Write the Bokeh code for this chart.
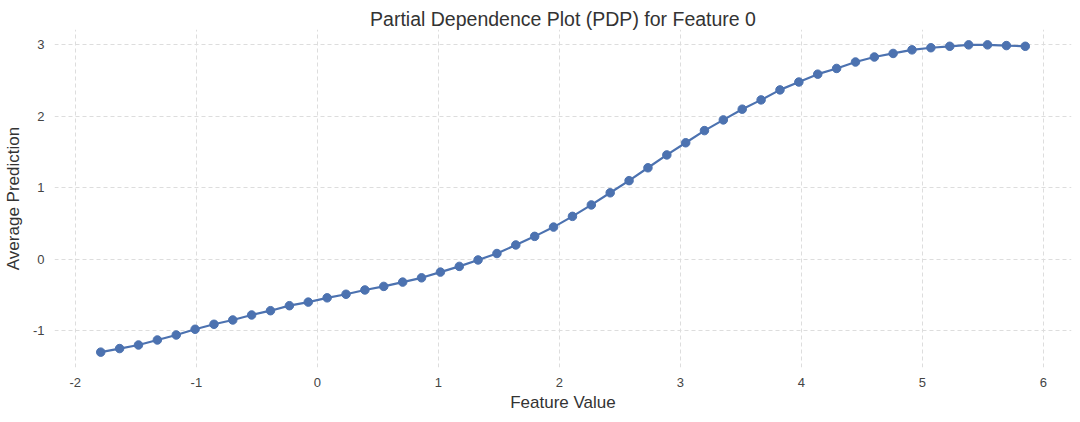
from bokeh.plotting import figure
from bokeh.models import FixedTicker, Range1d
from bokeh.embed import file_html
from bokeh.resources import INLINE

feature_values = [
    -1.790, -1.634, -1.478, -1.322, -1.166, -1.010, -0.854, -0.699, -0.543, -0.387,
    -0.231, -0.075, 0.081, 0.237, 0.393, 0.549, 0.705, 0.861, 1.017, 1.173,
    1.328, 1.484, 1.640, 1.796, 1.952, 2.108, 2.264, 2.420, 2.576, 2.732,
    2.888, 3.044, 3.199, 3.355, 3.511, 3.667, 3.823, 3.979, 4.135, 4.291,
    4.447, 4.603, 4.758, 4.914, 5.070, 5.226, 5.382, 5.538, 5.694, 5.850,
]
avg_prediction = [
    -1.30, -1.25, -1.20, -1.13, -1.06, -0.98, -0.91, -0.85, -0.78, -0.72,
    -0.65, -0.60, -0.54, -0.49, -0.43, -0.38, -0.32, -0.26, -0.18, -0.10,
    -0.01, 0.08, 0.20, 0.32, 0.45, 0.60, 0.76, 0.93, 1.10, 1.28,
    1.46, 1.63, 1.80, 1.95, 2.10, 2.23, 2.37, 2.48, 2.59, 2.67,
    2.76, 2.83, 2.88, 2.93, 2.96, 2.98, 3.00, 3.00, 2.99, 2.98,
]
x_ticks = [-2, -1, 0, 1, 2, 3, 4, 5, 6]
y_ticks = [-1, 0, 1, 2, 3]

FONT = "Liberation Sans"
BLUE = "#4C72B0"

p = figure(
    frame_width=1017, frame_height=338,
    output_backend="svg", toolbar_location=None,
    x_range=Range1d(-2.172, 6.232), y_range=Range1d(-1.515, 3.215),
    min_border_left=43, min_border_right=7, min_border_top=29, min_border_bottom=44,
    title="Partial Dependence Plot (PDP) for Feature 0",
)
p.outline_line_color = None
p.background_fill_color = "white"
p.border_fill_color = "white"

p.title.align = "center"
p.title.text_font = FONT
p.title.text_font_size = "19.5px"
p.title.text_font_style = "normal"
p.title.text_color = "#333333"
p.title.standoff = 0

for ax in (p.xaxis, p.yaxis):
    ax.axis_line_color = None
    ax.major_tick_line_color = None
    ax.minor_tick_line_color = None
    ax.major_tick_out = 0
    ax.major_tick_in = 0
    ax.major_label_text_font = FONT
    ax.major_label_text_font_size = "13px"
    ax.major_label_text_color = "#444444"
    ax.axis_label_text_font = FONT
    ax.axis_label_text_font_size = "17px"
    ax.axis_label_text_font_style = "normal"
    ax.axis_label_text_color = "#333333"

p.xaxis.ticker = FixedTicker(ticks=x_ticks)
p.yaxis.ticker = FixedTicker(ticks=y_ticks)
p.xaxis.major_label_overrides = {t: str(t) for t in x_ticks}
p.yaxis.major_label_overrides = {t: str(t) for t in y_ticks}
p.xaxis.axis_label = "Feature Value"
p.yaxis.axis_label = "Average Prediction"
p.xaxis.major_label_standoff = 10
p.yaxis.major_label_standoff = 10
p.xaxis.axis_label_standoff = 3
p.yaxis.axis_label_standoff = 7

for g in (p.xgrid, p.ygrid):
    g.grid_line_color = "#dddddd"
    g.grid_line_dash = "4 3"
    g.grid_line_width = 1
p.xgrid.ticker = FixedTicker(ticks=x_ticks)
p.ygrid.ticker = FixedTicker(ticks=y_ticks)

p.line(feature_values, avg_prediction, line_width=2.2, color=BLUE)
p.scatter(feature_values, avg_prediction, size=8.5, color=BLUE)

open("out.html", "w").write(file_html(p, INLINE))
